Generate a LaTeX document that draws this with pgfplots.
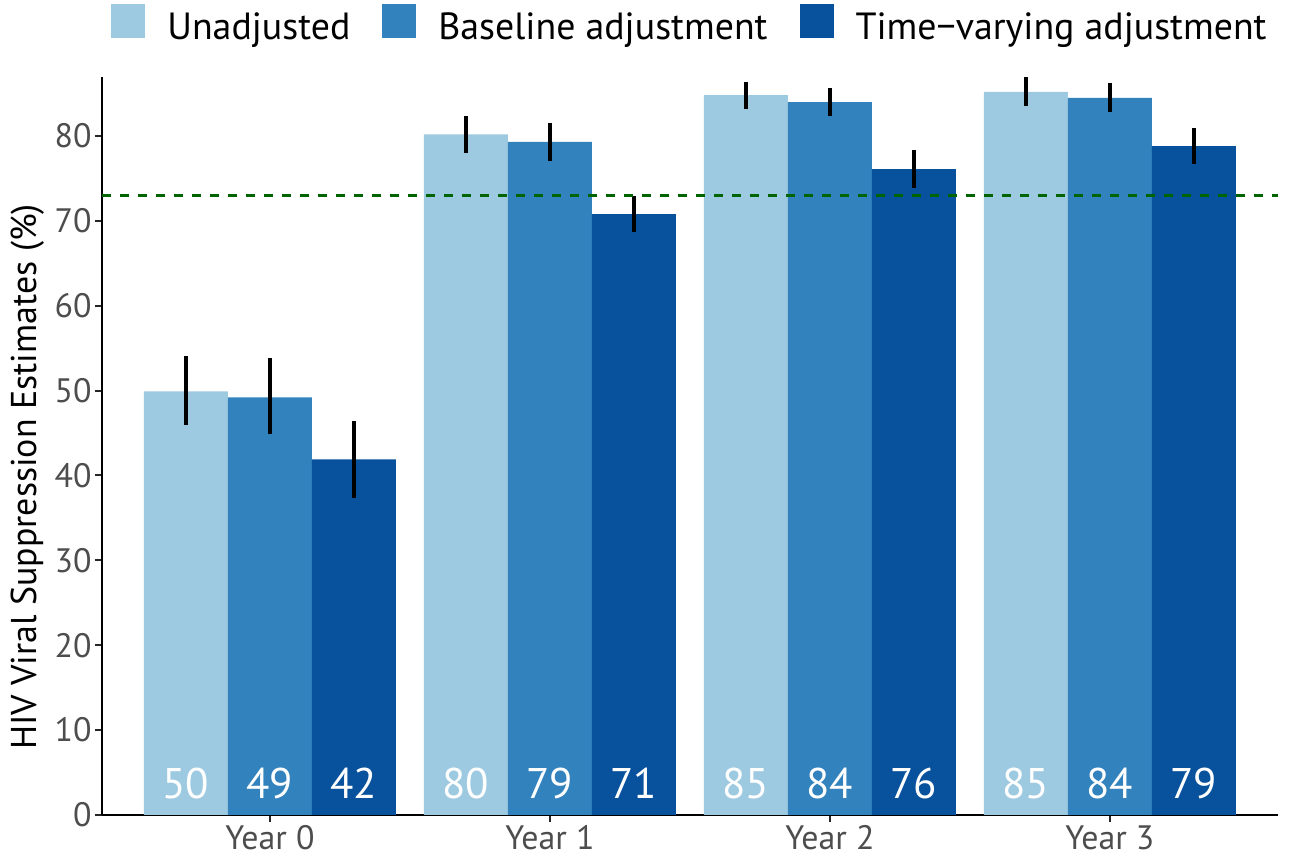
\documentclass[border=0pt]{standalone}
\usepackage{pgfplots}
\usepackage{pgfplotstable}
\pgfplotsset{compat=1.18}
\usepackage{fontspec}
\setmainfont{PT Sans}

\definecolor{blueA}{HTML}{9ECAE1}
\definecolor{blueB}{HTML}{3182BD}
\definecolor{blueC}{HTML}{08519C}
\definecolor{tickgray}{HTML}{4D4D4D}
\definecolor{refgreen}{HTML}{006400}
\newcommand\fs[1]{\fontsize{#1}{#1}\selectfont}

% year, estimate, error up, error down
\pgfplotstableread{
x y ep em
1 49.9 4.2 4.0
2 80.2 2.2 2.2
3 84.8 1.6 1.6
4 85.2 1.7 1.7
}\unadj
\pgfplotstableread{
x y ep em
1 49.2 4.7 4.3
2 79.3 2.2 2.2
3 84.0 1.7 1.6
4 84.5 1.8 1.7
}\baseadj
\pgfplotstableread{
x y ep em
1 41.9 4.5 4.5
2 70.8 2.1 2.1
3 76.1 2.2 2.2
4 78.8 2.1 2.1
}\timeadj
\pgfplotstableread{
x y l
0.7 0 50
1.0 0 49
1.3 0 42
1.7 0 80
2.0 0 79
2.3 0 71
2.7 0 85
3.0 0 84
3.3 0 76
3.7 0 85
4.0 0 84
4.3 0 79
}\labels

\begin{document}
\begin{tikzpicture}
\useasboundingbox (-102bp,-46bp) rectangle (1189bp,815bp);
\begin{axis}[
  scale only axis,
  width=1176bp, height=738bp,
  xmin=0.4, xmax=4.6, ymin=0, ymax=86.95,
  axis lines*=left,
  axis line style={line width=2bp, black},
  xtick={1,2,3,4},
  xticklabels={Year 0,Year 1,Year 2,Year 3},
  ytick={0,10,...,80},
  tick align=outside,
  major tick length=7bp,
  tick style={line width=2bp, color=black!85},
  ticklabel style={font=\fs{34}, text=tickgray},
  /pgf/number format/assume math mode=true,
  ylabel={HIV Viral Suppression Estimates (\%)},
  ylabel style={font=\fs{36}, text=black,
    at={(axis description cs:-0.0561,0.458)}, anchor=base},
  legend columns=-1,
  legend style={at={(0.5,1)}, anchor=south, yshift=32bp, draw=none, fill=none,
    font=\fs{38},
    /tikz/every odd column/.append style={column sep=20bp},
    /tikz/every even column/.append style={column sep=30bp}},
  legend image code/.code={\fill[#1] (0bp,-11bp) rectangle (34bp,23bp);},
  error bars/y dir=both, error bars/y explicit,
  error bars/error mark=none,
  error bars/error bar style={line width=4bp, black},
]
\addplot[ybar, bar width=0.3, bar shift=-0.3, fill=blueA, draw=none]
  table[x=x, y=y] {\unadj};
\addlegendentry{Unadjusted}
\addplot[ybar, bar width=0.3, bar shift=0, fill=blueB, draw=none]
  table[x=x, y=y] {\baseadj};
\addlegendentry{Baseline adjustment}
\addplot[ybar, bar width=0.3, bar shift=0.3, fill=blueC, draw=none]
  table[x=x, y=y] {\timeadj};
\addlegendentry{Time−varying adjustment}
% error bars on top of the bars
\addplot[draw=none, mark=none, forget plot, error bars/.cd, y dir=both, y explicit]
  table[x expr=\thisrow{x}-0.3, y=y, y error plus=ep, y error minus=em] {\unadj};
\addplot[draw=none, mark=none, forget plot, error bars/.cd, y dir=both, y explicit]
  table[x=x, y=y, y error plus=ep, y error minus=em] {\baseadj};
\addplot[draw=none, mark=none, forget plot, error bars/.cd, y dir=both, y explicit]
  table[x expr=\thisrow{x}+0.3, y=y, y error plus=ep, y error minus=em] {\timeadj};
\addplot[refgreen, line width=2.5bp, dash pattern=on 9bp off 9bp, forget plot]
  coordinates {(0.4,73) (4.6,73)};
\addplot[draw=none, mark=none, forget plot,
  nodes near coords, point meta=explicit symbolic,
  nodes near coords style={anchor=base, yshift=17bp, text=white, font=\fs{43}}]
  table[x=x, y=y, meta=l] {\labels};
\end{axis}
\end{tikzpicture}
\end{document}
